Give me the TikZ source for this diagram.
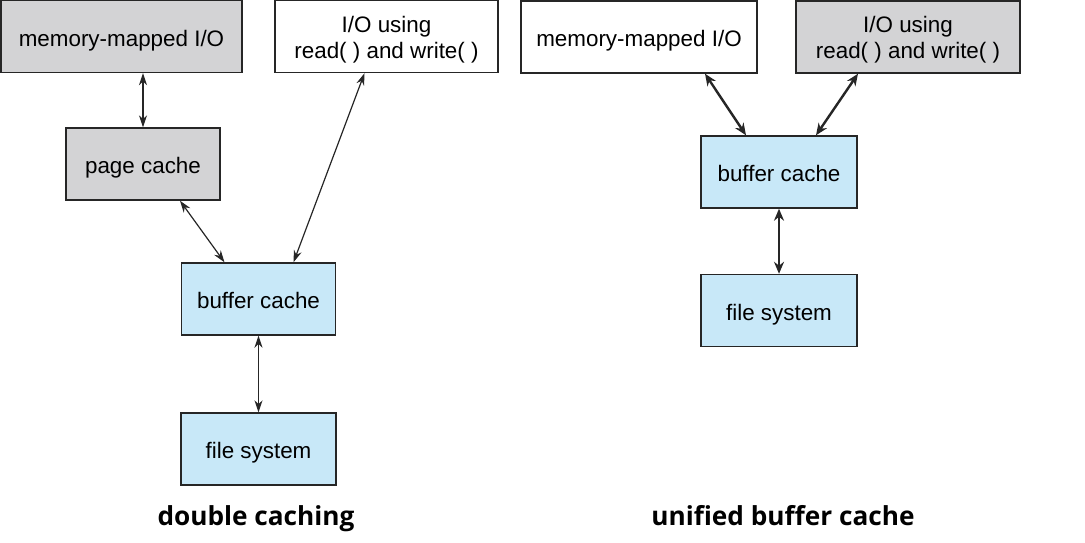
\documentclass[tikz,border=0pt]{standalone}
\usepackage{fontspec}
\setmainfont{Liberation Sans}
\newfontfamily\labelfont{Open Sans}
\usetikzlibrary{arrows.meta, calc}

\definecolor{boxgray}{RGB}{211,211,213}
\definecolor{boxblue}{RGB}{200,232,248}
\newcommand{\topgap}{\rule{0pt}{11pt}}

\begin{document}
\begin{tikzpicture}[x=0.5pt, y=-0.5pt,
    box/.style={draw=black!85, line width=0.7pt, align=center, inner sep=0pt,
        minimum height=36pt, font=\fontsize{11.2}{13}\selectfont},
    oneline/.style={text height=9.5pt, text depth=0pt},
    graybox/.style={box, fill=boxgray},
    bluebox/.style={box, oneline, fill=boxblue},
    whitebox/.style={box, fill=white},
    thinlink/.style={{Stealth[length=6pt, width=4pt]}-{Stealth[length=6pt, width=4pt]},
        line width=0.6pt, draw=black!85},
    thicklink/.style={{Stealth[length=6pt, width=5pt]}-{Stealth[length=6pt, width=5pt]},
        line width=1.2pt, draw=black!85},
    caption/.style={anchor=base, font=\labelfont\bfseries\fontsize{13.1}{16}\selectfont}]

    \useasboundingbox (0,0) rectangle (1085,542);

    % Double caching (gauche)
    \node[graybox, oneline, minimum width=120.5pt] (mmapL) at (121.5,36.5) {memory-mapped I/O};
    \node[whitebox, minimum width=111.5pt] (ioL) at (386.5,36.5) {\topgap I/O using\\read( ) and write( )};
    \node[graybox, oneline, minimum width=77pt] (pageL) at (143,164) {page cache};
    \node[bluebox, minimum width=77pt] (bufL) at (258.5,299) {buffer cache};
    \node[bluebox, minimum width=77.5pt] (fsL) at (258.5,449) {file system};
    \node[caption] (capL) at (256,525) {double caching};

    \draw[thinlink] (pageL.north |- mmapL.south) -- (pageL.north);
    \draw[thinlink] ($(pageL.south)+(37,0)$) -- ($(bufL.north)+(-34,0)$);
    \draw[thinlink] ($(ioL.south)+(-22,0)$) -- ($(bufL.north)+(35,0)$);
    \draw[thinlink] (bufL.south) -- (fsL.north);

    % Unified buffer cache (droite)
    \node[whitebox, oneline, minimum width=118pt] (mmapR) at (639,37) {memory-mapped I/O};
    \node[graybox, minimum width=112pt] (ioR) at (908,37) {\topgap I/O using\\read( ) and write( )};
    \node[bluebox, minimum width=78pt] (bufR) at (779,172) {buffer cache};
    \node[bluebox, minimum width=78pt] (fsR) at (779,310.5) {file system};
    \node[caption] (capR) at (783,525) {unified buffer cache};

    \draw[thicklink] ($(mmapR.south)+(66,0)$) -- ($(bufR.north)+(-33,0)$);
    \draw[thicklink] ($(ioR.south)+(-50,0)$) -- ($(bufR.north)+(37,0)$);
    \draw[thicklink] (bufR.south) -- (fsR.north);

\end{tikzpicture}
\end{document}
